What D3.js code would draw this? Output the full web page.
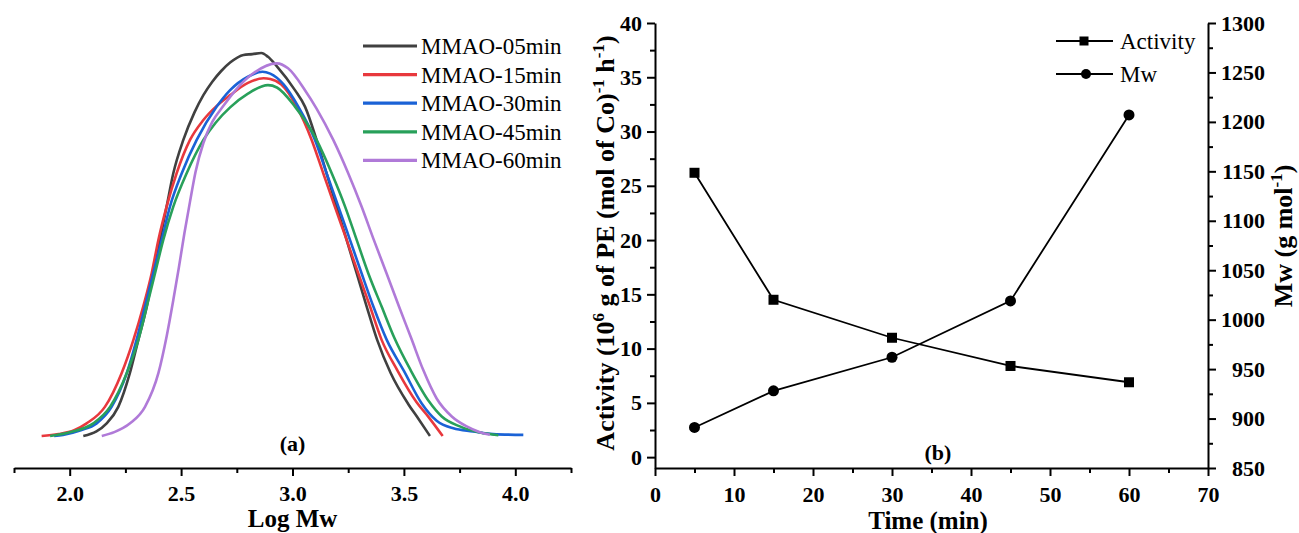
<!DOCTYPE html>
<html>
<head>
<meta charset="utf-8">
<script src="https://cdn.jsdelivr.net/npm/d3@7"></script>
<style>
  body { margin: 0; background: #fff; }
  svg { display: block; }
  text { font-family: "Liberation Serif", "Times New Roman", serif; }
</style>
</head>
<body>
<script>
// GPC curves (log Mw, normalised signal)
var gpc05 = [[2.061,0],[2.12,0.012],[2.166,0.033],[2.218,0.076],[2.27,0.164],[2.308,0.251],[2.346,0.338],[2.375,0.425],[2.405,0.512],[2.435,0.599],[2.465,0.686],[2.51,0.773],[2.56,0.845],[2.6,0.89],[2.64,0.925],[2.68,0.953],[2.72,0.975],[2.78,0.995],[2.82,0.997],[2.86,1.0],[2.89,0.99],[2.93,0.965],[3.011,0.903],[3.056,0.86],[3.108,0.773],[3.153,0.686],[3.198,0.599],[3.243,0.512],[3.288,0.425],[3.333,0.338],[3.38,0.251],[3.44,0.165],[3.52,0.083],[3.565,0.045],[3.617,0]];
var gpc15 = [[1.874,0],[1.95,0.005],[2.02,0.015],[2.076,0.033],[2.158,0.076],[2.233,0.164],[2.286,0.251],[2.33,0.338],[2.368,0.425],[2.398,0.512],[2.435,0.599],[2.48,0.686],[2.54,0.773],[2.6,0.825],[2.66,0.862],[2.72,0.89],[2.8,0.922],[2.87,0.934],[2.9,0.932],[2.95,0.918],[3.019,0.86],[3.086,0.773],[3.138,0.686],[3.19,0.599],[3.243,0.512],[3.295,0.425],[3.348,0.338],[3.4,0.251],[3.47,0.172],[3.557,0.088],[3.61,0.05],[3.674,0]];
var gpc30 = [[1.93,0],[1.97,0.003],[2.05,0.015],[2.121,0.033],[2.188,0.076],[2.256,0.164],[2.3,0.251],[2.338,0.338],[2.375,0.425],[2.413,0.512],[2.45,0.599],[2.503,0.686],[2.57,0.773],[2.66,0.86],[2.72,0.903],[2.8,0.938],[2.865,0.951],[2.9,0.946],[2.96,0.918],[3.026,0.86],[3.101,0.773],[3.153,0.686],[3.206,0.599],[3.258,0.512],[3.31,0.425],[3.363,0.338],[3.423,0.251],[3.5,0.17],[3.58,0.085],[3.647,0.04],[3.722,0.02],[3.81,0.012],[3.9,0.005],[4.036,0.003]];
var gpc45 = [[1.912,0],[2.0,0.01],[2.106,0.033],[2.181,0.076],[2.256,0.164],[2.308,0.251],[2.346,0.338],[2.383,0.425],[2.42,0.512],[2.465,0.599],[2.525,0.686],[2.6,0.773],[2.655,0.818],[2.72,0.858],[2.8,0.894],[2.89,0.916],[2.93,0.91],[3.011,0.86],[3.108,0.773],[3.176,0.686],[3.236,0.599],[3.288,0.512],[3.34,0.425],[3.4,0.338],[3.458,0.255],[3.53,0.172],[3.613,0.09],[3.67,0.051],[3.751,0.025],[3.841,0.009],[3.924,0.002]];
var gpc60 = [[2.144,0],[2.2,0.01],[2.271,0.033],[2.338,0.076],[2.398,0.164],[2.435,0.26],[2.465,0.355],[2.49,0.44],[2.515,0.53],[2.54,0.612],[2.565,0.69],[2.6,0.765],[2.64,0.82],[2.69,0.862],[2.74,0.9],[2.824,0.947],[2.93,0.973],[2.98,0.96],[3.056,0.903],[3.108,0.855],[3.183,0.773],[3.25,0.686],[3.31,0.599],[3.365,0.512],[3.422,0.425],[3.478,0.338],[3.533,0.255],[3.587,0.172],[3.647,0.098],[3.715,0.051],[3.782,0.025],[3.841,0.01],[3.886,0.003]];

var seriesNames = ["MMAO-05min", "MMAO-15min", "MMAO-30min", "MMAO-45min", "MMAO-60min"];
var seriesColors = ["#404040", "#e8383d", "#1a62d6", "#28a05a", "#b07ad8"];
var gpcData = [gpc05, gpc15, gpc30, gpc45, gpc60];
var logTicks = [2.0, 2.5, 3.0, 3.5, 4.0];

// panel (b)
var times = [5, 15, 30, 45, 60];
var activity = [26.2, 14.5, 11.0, 8.4, 6.9];
var mw = [891, 928, 962, 1019, 1207];
var timeTicks = [0, 10, 20, 30, 40, 50, 60, 70];
var actTicks = [0, 5, 10, 15, 20, 25, 30, 35, 40];
var mwTicks = [850, 900, 950, 1000, 1050, 1100, 1150, 1200, 1250, 1300];

var W = 1299, H = 533;
var svg = d3.select("body").append("svg").attr("width", W).attr("height", H);
svg.append("rect").attr("width", W).attr("height", H).attr("fill", "#fff");

var serif = "Liberation Serif, Times New Roman, serif";

function styleAxis(g, size) {
  g.attr("font-family", serif).attr("font-size", size).attr("font-weight", "bold");
  g.selectAll("path.domain").attr("stroke", "#000").attr("stroke-width", 2);
  g.selectAll(".tick line").attr("stroke", "#000").attr("stroke-width", 2);
  g.selectAll(".tick text").attr("fill", "#000");
}

// ---------- panel (a) ----------
var xa = d3.scaleLinear().domain([1.75, 4.25]).range([14, 571]);
var ya = d3.scaleLinear().domain([0, 1]).range([436, 53]);
var axisY = 468;

var gxa = svg.append("g").attr("transform", "translate(0," + axisY + ")")
  .call(d3.axisBottom(xa).tickValues(logTicks).tickFormat(d3.format(".1f"))
    .tickSizeInner(8).tickSizeOuter(0).tickPadding(9));
styleAxis(gxa, 22);
var gxam = svg.append("g").attr("transform", "translate(0," + axisY + ")")
  .call(d3.axisBottom(xa).tickValues([1.75, 2.25, 2.75, 3.25, 3.75, 4.25]).tickFormat("")
    .tickSizeInner(5).tickSizeOuter(0));
styleAxis(gxam, 22);
gxam.select("path.domain").remove();

var lineA = d3.line().x(d => xa(d[0])).y(d => ya(d[1])).curve(d3.curveMonotoneX);
svg.append("g").selectAll("path").data(gpcData).join("path")
  .attr("d", lineA)
  .attr("fill", "none")
  .attr("stroke", (d, i) => seriesColors[i])
  .attr("stroke-width", 2.6)
  .attr("stroke-linejoin", "round");

var legA = svg.append("g").selectAll("g").data(seriesNames).join("g")
  .attr("transform", (d, i) => "translate(0," + (46 + i * 28.6) + ")");
legA.append("line").attr("x1", 363).attr("x2", 417)
  .attr("stroke", (d, i) => seriesColors[i]).attr("stroke-width", 3.2);
legA.append("text").attr("x", 421).attr("y", 8)
  .style("font-size", "23px").text(d => d);

svg.append("text").attr("x", xa(3.0)).attr("y", 451).attr("text-anchor", "middle")
  .style("font-size", "22px").style("font-weight", "bold").text("(a)");
svg.append("text").attr("x", xa(3.0)).attr("y", 527).attr("text-anchor", "middle")
  .style("font-size", "25px").style("font-weight", "bold").text("Log Mw");

// ---------- panel (b) ----------
var xb = d3.scaleLinear().domain([0, 70]).range([655, 1208]);
var yl = d3.scaleLinear().domain([-1, 40]).range([axisY, 23]);
var yr = d3.scaleLinear().domain([850, 1300]).range([axisY, 23]);

var gxb = svg.append("g").attr("transform", "translate(0," + axisY + ")")
  .call(d3.axisBottom(xb).tickValues(timeTicks).tickFormat(d3.format("d"))
    .tickSizeInner(8).tickSizeOuter(0).tickPadding(10));
styleAxis(gxb, 22);
var gxbm = svg.append("g").attr("transform", "translate(0," + axisY + ")")
  .call(d3.axisBottom(xb).tickValues(d3.range(5, 70, 10)).tickFormat("").tickSizeInner(5).tickSizeOuter(0));
styleAxis(gxbm, 22);
gxbm.select("path.domain").remove();

var gyl = svg.append("g").attr("transform", "translate(655,0)")
  .call(d3.axisLeft(yl).tickValues(actTicks).tickFormat(d3.format("d"))
    .tickSizeInner(8).tickSizeOuter(0).tickPadding(5));
styleAxis(gyl, 22);
var gylm = svg.append("g").attr("transform", "translate(655,0)")
  .call(d3.axisLeft(yl).tickValues(d3.range(2.5, 40, 5)).tickFormat("").tickSizeInner(5).tickSizeOuter(0));
styleAxis(gylm, 22);
gylm.select("path.domain").remove();

var gyr = svg.append("g").attr("transform", "translate(1208,0)")
  .call(d3.axisRight(yr).tickValues(mwTicks).tickFormat(d3.format("d"))
    .tickSizeInner(8).tickSizeOuter(0).tickPadding(6));
styleAxis(gyr, 22);
gyr.selectAll(".tick text").attr("text-anchor", "end").attr("x", 57);
var gyrm = svg.append("g").attr("transform", "translate(1208,0)")
  .call(d3.axisRight(yr).tickValues(d3.range(875, 1300, 50)).tickFormat("").tickSizeInner(5).tickSizeOuter(0));
styleAxis(gyrm, 22);
gyrm.select("path.domain").remove();

var actPts = times.map((t, i) => [t, activity[i]]);
var mwPts = times.map((t, i) => [t, mw[i]]);

svg.append("path").datum(actPts)
  .attr("d", d3.line().x(d => xb(d[0])).y(d => yl(d[1])))
  .attr("fill", "none").attr("stroke", "#000").attr("stroke-width", 1.8);
svg.append("path").datum(mwPts)
  .attr("d", d3.line().x(d => xb(d[0])).y(d => yr(d[1])))
  .attr("fill", "none").attr("stroke", "#000").attr("stroke-width", 1.8);

var sq = 10;
svg.append("g").selectAll("rect").data(actPts).join("rect")
  .attr("x", d => xb(d[0]) - sq / 2).attr("y", d => yl(d[1]) - sq / 2)
  .attr("width", sq).attr("height", sq).attr("fill", "#000");
svg.append("g").selectAll("circle").data(mwPts).join("circle")
  .attr("cx", d => xb(d[0])).attr("cy", d => yr(d[1])).attr("r", 5.5).attr("fill", "#000");

// legend (b)
var legB = svg.append("g");
legB.append("line").attr("x1", 1056).attr("x2", 1113).attr("y1", 41).attr("y2", 41)
  .attr("stroke", "#000").attr("stroke-width", 1.8);
legB.append("rect").attr("x", 1084 - 4.5).attr("y", 41 - 4.5).attr("width", 9).attr("height", 9).attr("fill", "#000");
legB.append("text").attr("x", 1120).attr("y", 49).style("font-size", "23px").text("Activity");
legB.append("line").attr("x1", 1056).attr("x2", 1113).attr("y1", 74).attr("y2", 74)
  .attr("stroke", "#000").attr("stroke-width", 1.8);
legB.append("circle").attr("cx", 1086).attr("cy", 74).attr("r", 5).attr("fill", "#000");
legB.append("text").attr("x", 1120).attr("y", 82).style("font-size", "23px").text("Mw");

svg.append("text").attr("x", 938).attr("y", 460).attr("text-anchor", "middle")
  .style("font-size", "22px").style("font-weight", "bold").text("(b)");
svg.append("text").attr("x", 928).attr("y", 529).attr("text-anchor", "middle")
  .style("font-size", "25px").style("font-weight", "bold").text("Time (min)");

// rotated axis titles
var tl = svg.append("text").attr("transform", "translate(614,243) rotate(-90)")
  .attr("text-anchor", "middle").style("font-size", "26px").style("font-weight", "bold");
tl.append("tspan").text("Activity (10");
tl.append("tspan").attr("dy", -10).style("font-size", "17px").text("6");
tl.append("tspan").attr("dy", 10).text(" g of PE (mol of Co)");
tl.append("tspan").attr("dy", -10).style("font-size", "17px").text("-1");
tl.append("tspan").attr("dy", 10).text(" h");
tl.append("tspan").attr("dy", -10).style("font-size", "17px").text("-1");
tl.append("tspan").attr("dy", 10).text(")");

var tr = svg.append("text").attr("transform", "translate(1292,236) rotate(-90)")
  .attr("text-anchor", "middle").style("font-size", "26px").style("font-weight", "bold");
tr.append("tspan").text("Mw (g mol");
tr.append("tspan").attr("dy", -10).style("font-size", "17px").text("-1");
tr.append("tspan").attr("dy", 10).text(")");
</script>
</body>
</html>
